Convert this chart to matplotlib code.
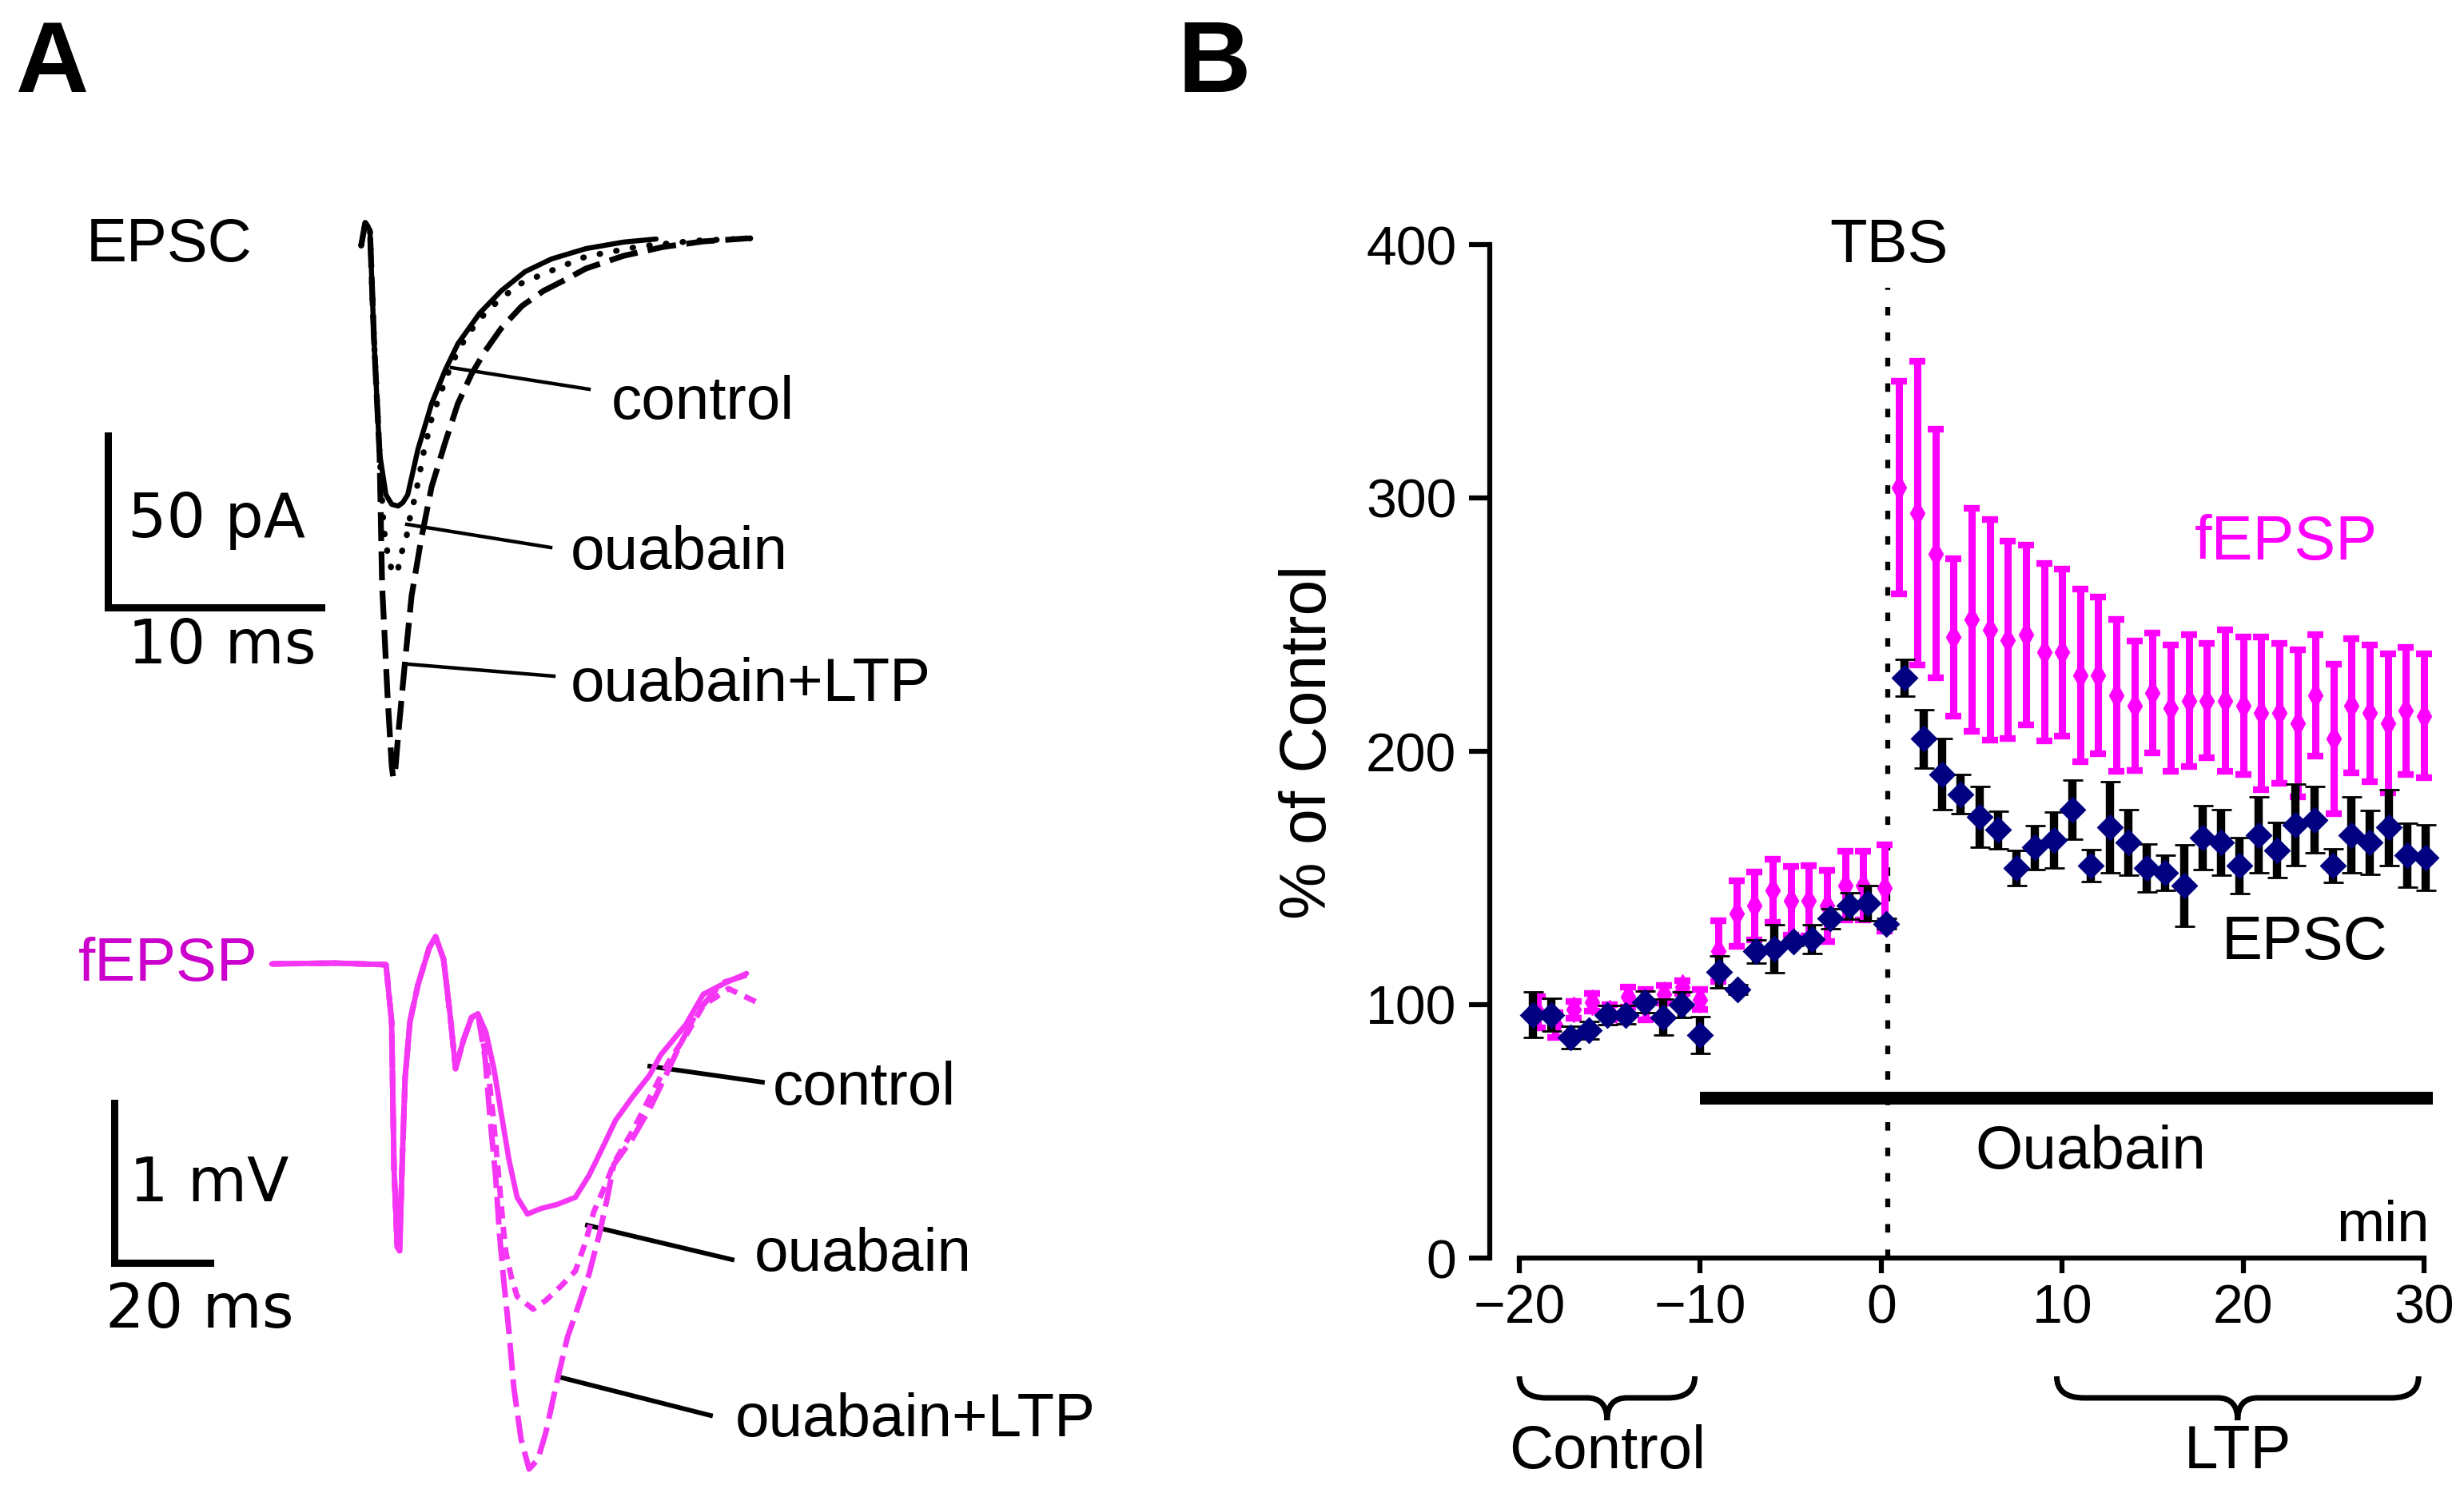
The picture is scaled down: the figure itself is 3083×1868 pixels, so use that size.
import matplotlib
matplotlib.use("Agg")
import matplotlib.pyplot as plt
import matplotlib.transforms as mtransforms
from matplotlib.path import Path
from matplotlib.patches import PathPatch

plt.rcParams['font.family'] = ['Liberation Sans', 'DejaVu Sans']

# ---------------- panel A, EPSC traces (time ms, current pA) ----------------
epsc_ctrl_t = [-0.19, 0, 0.22, 0.41, 0.67, 0.97, 1.24, 1.54, 1.76, 1.99, 2.47, 3.11, 3.75, 4.34,
               5.36, 6.37, 7.49, 8.73, 10.34, 12.1, 13.63]
epsc_ctrl_i = [-4.0, 2.6, 0.5, -31.4, -64.4, -76.5, -79.3, -79.8, -78.8, -76.5, -63.3, -50.0, -40.2, -32.6,
               -23.7, -17.2, -11.6, -7.9, -4.9, -3.0, -2.1]

epsc_oua_t = [-0.19, 0, 0.22, 0.41, 0.67, 0.86, 1.09, 1.31, 1.50, 1.72, 1.91, 2.10, 2.36, 2.73, 3.11,
              3.48, 3.86, 4.34, 4.87, 5.62, 6.37, 7.34, 8.61, 10.34, 12.92, 15.47, 18.09]
epsc_oua_i = [-4.0, 2.6, 0.5, -31.4, -64.4, -86.0, -95.3, -99.5, -99.1, -93.0, -89.5, -83.0, -76.5, -64.4, -54.4,
              -47.9, -41.4, -34.7, -29.3, -23.7, -19.3, -14.9, -11.6, -7.2, -4.2, -2.6, -1.9]

epsc_ltp_t = [-0.19, 0, 0.22, 0.41, 0.67, 0.79, 1.05, 1.24, 1.31, 1.42, 1.54, 1.87, 2.17, 2.62, 3.11,
              3.75, 4.34, 4.98, 5.62, 6.37, 7.34, 8.35, 9.36, 10.34, 12.1, 13.97, 15.84, 17.94]
epsc_ltp_i = [-4.0, 2.6, 0.5, -31.4, -64.4, -102.8, -135.6, -155.3, -158.8, -155.8, -146.7, -124.7, -106.0,
              -89.5, -74.2, -61.2, -50.0, -41.4, -34.7, -28.1, -21.6, -17.2, -14.0, -10.7, -7.0, -4.4, -2.8, -1.9]

# ---------------- panel A, fEPSP traces (time ms, voltage mV) ----------------
fep_start_t = [0, 13.3, 23.83, 25.0, 25.5, 26.17, 26.67, 27.17, 27.83, 28.83, 30.5, 32.83, 34.17, 35.83,
               37.17, 38.33, 40.0, 41.67, 43.0]
fep_start_v = [0, 0.005, -0.005, -0.36, -1.275, -1.77, -1.795, -1.275, -0.705, -0.36, -0.13, 0.10, 0.17, 0.03,
               -0.313, -0.655, -0.475, -0.335, -0.313]

fep_ctrl_t = [44.67, 46.33, 47.83, 49.5, 51.17, 53.33, 56.17, 59.5, 63.33, 66.17, 68.83, 71.67, 75.17, 78.83,
              81.1, 86.33, 90.0, 94.5, 99.0]
fep_ctrl_v = [-0.428, -0.655, -0.93, -1.23, -1.46, -1.565, -1.53, -1.505, -1.46, -1.323, -1.16, -0.98, -0.835,
              -0.695, -0.57, -0.38, -0.19, -0.12, -0.06]

fep_oua_t = [45.0, 46.17, 47.17, 48.33, 48.83, 50.0, 51.17, 54.5, 57.17, 60.5, 63.33, 65.5, 67.17, 69.5,
             71.46, 75.17, 78.83, 82.62, 86.33, 90.0, 95.27, 101.17]
fep_oua_v = [-0.635, -0.955, -1.275, -1.665, -1.805, -1.965, -2.08, -2.16, -2.105, -2.01, -1.92, -1.735, -1.55,
             -1.39, -1.24, -1.05, -0.835, -0.62, -0.45, -0.26, -0.155, -0.24]

fep_ltp_t = [44.5, 45.5, 46.67, 47.5, 48.33, 49.5, 50.5, 52.0, 53.67, 55.5, 57.17, 59.5, 61.67, 63.83, 66.17,
             68.33, 70.0, 71.33, 75.17, 78.83, 82.62, 84.83, 88.5, 93.78, 99.0]
fep_ltp_v = [-0.59, -0.955, -1.323, -1.69, -1.965, -2.31, -2.655, -2.975, -3.16, -3.10, -2.93, -2.61, -2.335,
             -2.15, -1.94, -1.69, -1.46, -1.255, -1.095, -0.905, -0.67, -0.525, -0.31, -0.12, -0.07]

# ---------------- panel B, time course (% of control) ----------------
epsc_time = [-19.25, -18.22, -17.19, -16.17, -15.14, -14.11, -13.08, -12.05, -11.03, -10.0,
             -8.97, -7.94, -6.91, -5.89, -4.86, -3.83, -2.80, -1.77, -0.75, 0.28,
             1.31, 2.34, 3.37, 4.39, 5.42, 6.45, 7.48, 8.51, 9.53, 10.56,
             11.59, 12.62, 13.65, 14.67, 15.70, 16.73, 17.76, 18.79, 19.81, 20.84,
             21.87, 22.90, 23.93, 24.95, 25.98, 27.01, 28.04, 29.07, 30.09]
epsc_mean = [96, 96, 87, 90, 96, 96, 101, 95, 100, 88,
             113, 106, 121, 122, 125, 126, 134, 139, 140, 132,
             229, 205, 191, 183, 174, 169, 154, 162, 165, 177,
             155, 170, 164, 154, 152, 147, 166, 164, 155, 167,
             161, 171, 173, 155, 167, 164, 170, 159, 158]
epsc_sem = [8.9, 6.5, 4.4, 3.5, 3.8, 3.6, 4.3, 7.1, 5.2, 7.2,
            6.3, 2, 4.7, 9.4, 1.5, 5.7, 4, 5.2, 6.9, 2,
            7.3, 11.5, 14, 7.7, 12, 7.4, 7, 8.7, 11, 11.8,
            6.3, 18, 12.9, 9.4, 7, 16, 12.7, 13, 11, 15,
            10.8, 16, 13, 6.6, 15, 12.6, 15, 12.6, 13]

fepsp_time = [-19, -18, -17, -16, -15, -14, -13, -12, -11, -10,
              -9, -8, -7, -6, -5, -4, -3, -2, -1, 0.2,
              1, 2, 3, 4, 5, 6, 7, 8, 9, 10,
              11, 12, 13, 14, 15, 16, 17, 18, 19, 20,
              21, 22, 23, 24, 25, 26, 27, 28, 29, 30]
fepsp_mean = [97, 92, 98, 101, 97, 103, 100, 104, 107, 102,
              121, 136, 139, 145, 141, 141, 139, 147, 147, 146,
              304, 294, 278, 245, 252, 248, 244, 246, 239, 239,
              230, 230, 222, 218, 223, 217, 220, 220, 220, 218,
              215, 215, 211, 222, 205, 218, 215, 211, 216, 214]
fepsp_sem = [6, 5, 3.4, 3.4, 3, 3.9, 6, 3.5, 2.6, 4,
             12, 13, 13.4, 12.4, 13.7, 14, 14, 13.5, 13.6, 17,
             42, 60, 49, 31, 44, 43.5, 39, 35.5, 35, 33,
             34, 31, 30, 25.5, 23.7, 25, 26, 22.5, 28, 27,
             30, 27.5, 29, 24, 29.5, 26.5, 27, 27.5, 25, 24.5]

tbs_time = 0.35
ouabain_period = (-10, 30.5)
ouabain_level = 63
control_period = (-20, -10.3)
ltp_period = (9.7, 29.7)
y_ticks = [0, 100, 200, 300, 400]
x_ticks = [-20, -10, 0, 10, 20, 30]

MAGENTA = '#FF00FF'
TRACE_MAG = '#F536F5'
LABEL_MAG = '#CC00CC'
NAVY = '#000080'

W, H = 3083, 1868
fig = plt.figure(figsize=(W / 100, H / 100), dpi=100)


def px_axes(x0, y0, x1, y1):
    """axes placed by a pixel box (top-left origin)"""
    a = fig.add_axes([x0 / W, 1 - y1 / H, (x1 - x0) / W, (y1 - y0) / H])
    a.set_facecolor('none')
    return a


# overlay in pixel units for labels and leader lines
ov = px_axes(0, 0, W, H)
ov.set_xlim(0, W)
ov.set_ylim(H, 0)
ov.axis('off')

# ---- EPSC traces
ax_e = px_axes(100, 250, 1000, 1000)
ax_e.set_xlim((100 - 457) / 26.7, (1000 - 457) / 26.7)
ax_e.set_ylim(-(1000 - 290) / 4.3, -(250 - 290) / 4.3)
ax_e.axis('off')
ax_e.plot(epsc_ltp_t, epsc_ltp_i, color='k', lw=5.2, ls=(0, (5.0, 1.8)), solid_joinstyle='round')
ax_e.plot(epsc_oua_t, epsc_oua_i, color='k', lw=5.4, ls=(0, (0.1, 2.7)), dash_capstyle='round')
ax_e.plot(epsc_ctrl_t, epsc_ctrl_i, color='k', lw=4.6, solid_joinstyle='round', solid_capstyle='round')
sx, sy = (135 - 457) / 26.7, -(760 - 290) / 4.3
ax_e.plot([sx, sx, sx + 10], [sy + 50, sy, sy], color='k', lw=6.5, solid_joinstyle='miter')

# ---- fEPSP traces
ax_f = px_axes(100, 1150, 1000, 1868)
ax_f.set_xlim(-40, 110)
ax_f.set_ylim(-(1868 - 1206) / 200, -(1150 - 1206) / 200)
ax_f.axis('off')
ax_f.plot(fep_start_t + fep_ltp_t, fep_start_v + fep_ltp_v, color=TRACE_MAG, lw=5.0, ls=(0, (5.0, 1.6)))
ax_f.plot(fep_start_t + fep_oua_t, fep_start_v + fep_oua_v, color=TRACE_MAG, lw=5.0, ls=(0, (2.2, 1.5)))
ax_f.plot(fep_start_t + fep_ctrl_t, fep_start_v + fep_ctrl_v, color=TRACE_MAG, lw=4.8,
          solid_joinstyle='round', solid_capstyle='round')
fx, fy = (143 - 340) / 6, -(1580 - 1206) / 200
ax_f.plot([fx, fx, fx + 20], [fy + 1, fy, fy], color='k', lw=6.5, solid_joinstyle='miter')

# ---- panel A text
ov.text(20, 115, 'A', fontsize=91, fontweight='bold', va='baseline')
ov.text(1474, 115, 'B', fontsize=91, fontweight='bold', va='baseline')
ov.text(108, 327, 'EPSC', fontsize=55, va='baseline')
ov.text(160, 672, '50 pA', fontsize=55, family='DejaVu Sans', va='baseline')
ov.text(160, 830, '10 ms', fontsize=55, family='DejaVu Sans', va='baseline')
ov.text(98, 1227, 'fEPSP', fontsize=55, color=LABEL_MAG, va='baseline')
ov.text(162, 1503, '1 mV', fontsize=55, family='DejaVu Sans', va='baseline')
ov.text(132, 1661, '20 ms', fontsize=55, family='DejaVu Sans', va='baseline')

epsc_leaders = [((565, 460, 737, 487), (765, 524), 'control'),
                ((509, 656, 689, 685), (714, 712), 'ouabain'),
                ((511, 831, 693, 846), (714, 877), 'ouabain+LTP')]
for (x0, y0, x1, y1), (tx, ty), lab in epsc_leaders:
    ov.plot([x0, x1], [y0, y1], color='k', lw=3.2)
    ov.text(tx, ty, lab, fontsize=55, va='baseline')

fepsp_leaders = [((813, 1334, 954, 1354), (967, 1382), 'control'),
                 ((735, 1533, 916, 1576), (944, 1590), 'ouabain'),
                 ((700, 1723, 889, 1771), (920, 1797), 'ouabain+LTP')]
for (x0, y0, x1, y1), (tx, ty), lab in fepsp_leaders:
    ov.plot([x0, x1], [y0, y1], color='k', lw=4.2)
    ov.text(tx, ty, lab, fontsize=55, va='baseline')

# ---------------- panel B ----------------
ax = px_axes(1864, 280, 3060, 1574)
ax.set_xlim((1864 - 1901) / 22.64 - 20, (3060 - 1901) / 22.64 - 20)
ax.set_ylim(0, (1574 - 280) / 3.17)
for s in ['top', 'right']:
    ax.spines[s].set_visible(False)
ax.spines['left'].set_bounds(0, 400)
ax.spines['bottom'].set_bounds(-20, 30)
for s in ['left', 'bottom']:
    ax.spines[s].set_linewidth(4.5)
ax.set_xticks(x_ticks)
ax.set_yticks(y_ticks)
ax.tick_params(axis='y', length=19, width=4.5, pad=11, labelsize=49)
ax.tick_params(axis='x', length=14, width=4.5, pad=9, labelsize=49)

ax.plot([tbs_time, tbs_time], [0, 383], color='k', lw=4.5, ls=(0, (1.7, 3.4)), zorder=1)
ax.plot(ouabain_period, [ouabain_level, ouabain_level], color='k', lw=11.5,
        solid_capstyle='butt', clip_on=False, zorder=1)

ax.errorbar(fepsp_time, fepsp_mean, yerr=fepsp_sem, fmt='d', color=MAGENTA, ms=16,
            elinewidth=6.5, capsize=7, capthick=6, zorder=2, clip_on=False)
ax.errorbar(epsc_time, epsc_mean, yerr=epsc_sem, fmt='D', mfc=NAVY, mec=NAVY, mew=2, ecolor='k',
            ms=15.5, elinewidth=7.5, capsize=9, capthick=7, zorder=3, clip_on=False)

ov.text(1638, 928, '% of Control', fontsize=58, rotation=90, ha='center', va='center')
ov.text(2363, 328, 'TBS', fontsize=55, ha='center', va='baseline')
ov.text(2746, 700, 'fEPSP', fontsize=56, color=MAGENTA, va='baseline')
ov.text(2780, 1200, 'EPSC', fontsize=55, va='baseline')
ov.text(2471, 1462, 'Ouabain', fontsize=55, va='baseline')
ov.text(3040, 1553, 'min', fontsize=52, ha='right', va='baseline')


def brace(a, x0, x1, ytop, ymid, ybot, dx_end, dx_mid):
    xc = (x0 + x1) / 2
    verts = [(x0, ytop), (x0, ymid), (x0 + dx_end, ymid), (xc - dx_mid, ymid),
             (xc, ymid), (xc, ybot), (xc, ymid), (xc + dx_mid, ymid),
             (x1 - dx_end, ymid), (x1, ymid), (x1, ytop)]
    codes = [Path.MOVETO, Path.CURVE3, Path.CURVE3, Path.LINETO,
             Path.CURVE3, Path.CURVE3, Path.CURVE3, Path.CURVE3,
             Path.LINETO, Path.CURVE3, Path.CURVE3]
    trans = mtransforms.blended_transform_factory(a.transData, a.transAxes)
    a.add_patch(PathPatch(Path(verts, codes), transform=trans, fill=False,
                          lw=5, color='k', clip_on=False))
    return xc


span = 1574 - 280
yt, ym, yb = (1574 - 1722) / span, (1574 - 1749) / span, (1574 - 1777) / span
c1 = brace(ax, control_period[0], control_period[1], yt, ym, yb, 1.5, 1.1)
c2 = brace(ax, ltp_period[0], ltp_period[1], yt, ym, yb, 1.5, 1.1)
tr = mtransforms.blended_transform_factory(ax.transData, ov.transData)
ax.text(c1, 1837, 'Control', fontsize=55, ha='center', va='baseline', transform=tr, clip_on=False)
ax.text(c2, 1837, 'LTP', fontsize=55, ha='center', va='baseline', transform=tr, clip_on=False)

fig.savefig('out.png', dpi=100)
